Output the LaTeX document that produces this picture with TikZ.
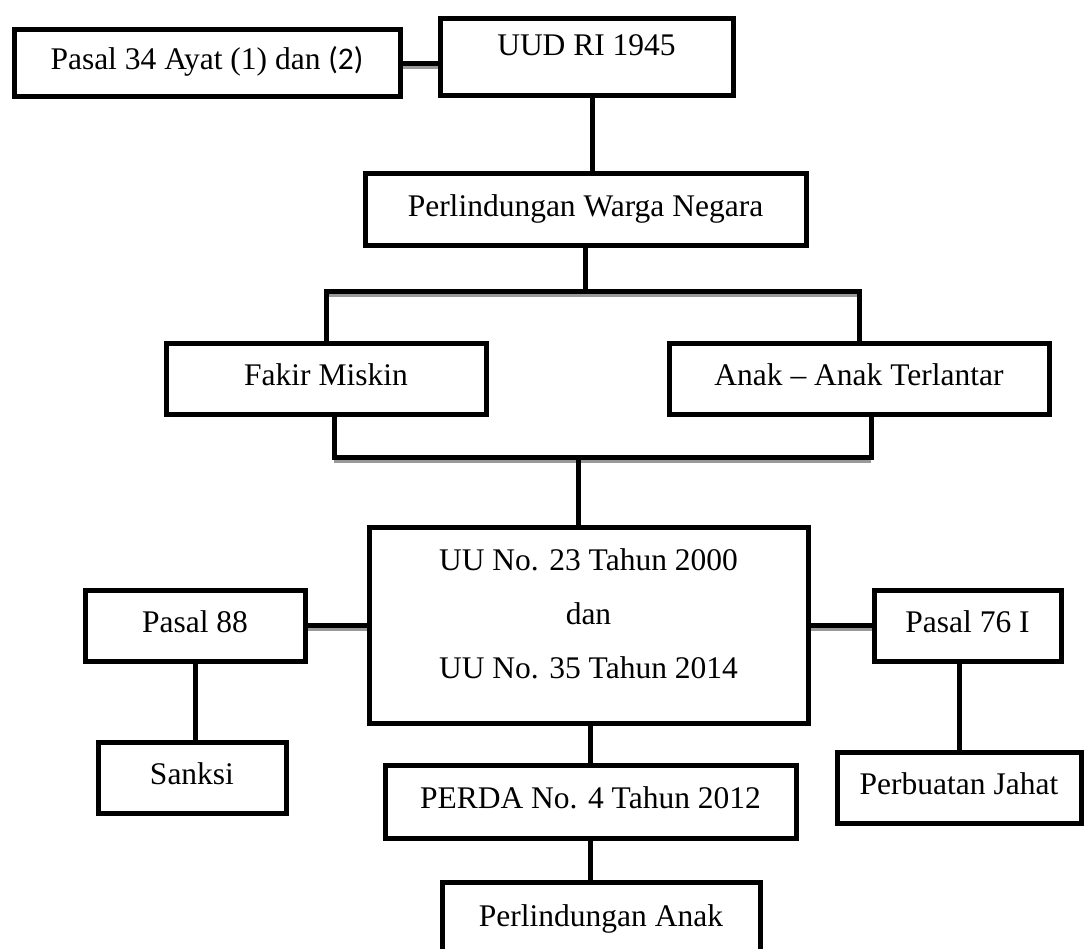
\documentclass[tikz,border=0pt]{standalone}
\usepackage{fontspec}
\setmainfont{Liberation Serif}
\newfontfamily\calib{Carlito}
\begin{document}
\begin{tikzpicture}[x=1pt,y=-1pt,
  box/.style={draw, line width=5pt, rectangle, inner sep=0pt,
    font=\fontsize{31.5}{54}\selectfont, text height=22pt, text depth=9pt},
  frame/.style={draw, line width=5pt, rectangle, inner sep=0pt},
  txt/.style={inner sep=0pt, font=\fontsize{31.5}{54}\selectfont, align=center},
  conn/.style={line width=5pt},
  shad/.style={line width=4pt, black!40}]
\useasboundingbox (0,0) rectangle (1085,949);
\clip (0,0) rectangle (1085,949);
\fill[white] (0,0) rectangle (1085,949);

% nodes
\node[box, minimum width=386pt, minimum height=67pt] (p34) at (207,63.5) {Pasal 34 Ayat (1) dan {\calib(2)}};
\node[box, minimum width=293pt, minimum height=77pt, text depth=25pt] (uud) at (586.5,57.5) {UUD RI 1945};
\node[box, minimum width=441pt, minimum height=72pt] (pwn) at (585.5,210) {Perlindungan Warga Negara};
\node[box, minimum width=320pt, minimum height=71pt] (fakir) at (326,379.5) {Fakir Miskin};
\node[box, minimum width=380pt, minimum height=71pt] (anak) at (859,379.5) {Anak -- Anak Terlantar};
\node[frame, minimum width=439pt, minimum height=196pt] (uu) at (588.5,625) {};
\node[txt] (uutext) at (588.5,614) {UU No. 23 Tahun 2000\\dan\\UU No. 35 Tahun 2014};
\node[box, minimum width=220pt, minimum height=71pt] (p88) at (195,625.5) {Pasal 88};
\node[box, minimum width=187pt, minimum height=71pt] (p76) at (967.5,625.5) {Pasal 76 I};
\node[box, minimum width=188pt, minimum height=71pt] (sanksi) at (192,777.5) {Sanksi};
\node[box, minimum width=244pt, minimum height=71pt] (pj) at (959,787.5) {Perbuatan Jahat};
\node[box, minimum width=411pt, minimum height=73pt] (perda) at (590.5,801.5) {PERDA No. 4 Tahun 2012};
\node[box, minimum width=318pt, minimum height=76pt] (pa) at (601,920) {Perlindungan Anak};

% coordinates
\coordinate (tb) at (587,292);
\coordinate (bl) at (334,458);
\coordinate (br) at (871,458);
\coordinate (bc) at (578,458);

% shadows of horizontal connectors
\draw[shad] ([yshift=-3.5pt]p34.east) -- ([yshift=-3.5pt]p34.east -| uud.west);
\draw[shad] ([yshift=-3.5pt]fakir.north |- tb) -- ([yshift=-3.5pt]anak.north |- tb);
\draw[shad] ([yshift=-3.5pt]bl) -- ([yshift=-3.5pt]br);
\draw[shad] ([yshift=-3.5pt]p88.east) -- ([yshift=-3.5pt]p88.east -| uu.west);
\draw[shad] ([yshift=-3.5pt]p76.west) -- ([yshift=-3.5pt]p76.west -| uu.east);

% connectors
\draw[conn] (p34.east) -- (p34.east -| uud.west);
\draw[conn] ([xshift=5.5pt]uud.south) -- ([xshift=5.5pt]uud.south |- pwn.north);
\draw[conn] (pwn.south) -- (pwn.south |- tb);
\draw[conn] (fakir.north) |- (tb) -| (anak.north);
\draw[conn] (fakir.south -| bl) -- (bl) -- (br) -- (anak.south -| br);
\draw[conn] (bc) -- (uu.north -| bc);
\draw[conn] (p88.east) -- (p88.east -| uu.west);
\draw[conn] (p76.west) -- (p76.west -| uu.east);
\draw[conn] (p88.south) -- (p88.south |- sanksi.north);
\draw[conn] (pj.north) -- (pj.north |- p76.south);
\draw[conn] ([xshift=1.5pt]uu.south) -- ([xshift=1.5pt]uu.south |- perda.north);
\draw[conn] (perda.south) -- (perda.south |- pa.north);
\end{tikzpicture}
\end{document}
